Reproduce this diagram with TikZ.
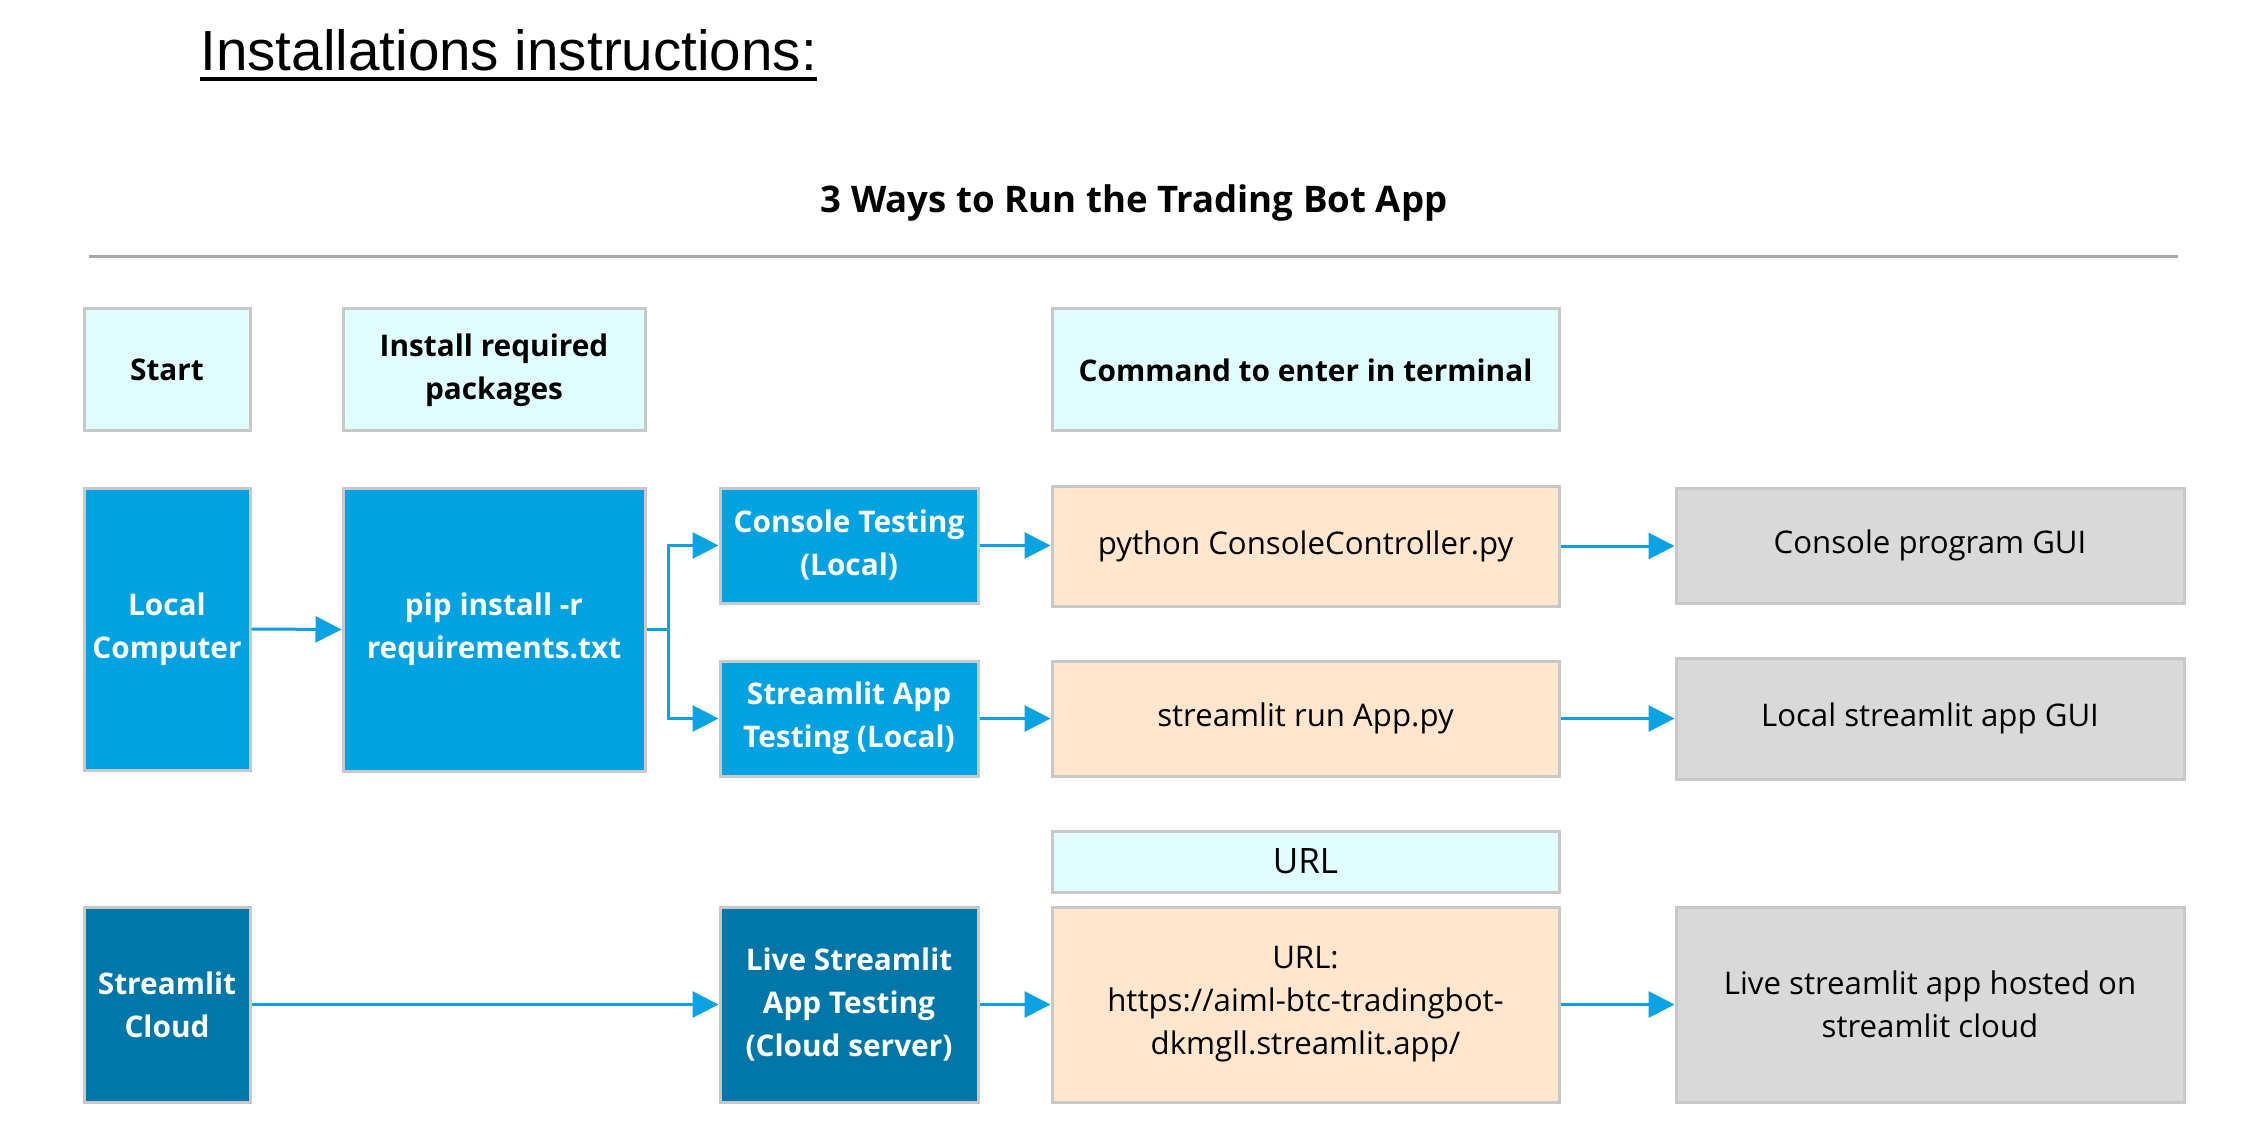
\documentclass[tikz,border=0pt]{standalone}
\usepackage{fontspec}
\setmainfont{Open Sans}
\newfontfamily\arialf{Liberation Sans}
\usetikzlibrary{arrows.meta}
\definecolor{cyanbg}{HTML}{E0FEFE}
\definecolor{bluebg}{HTML}{00A2E2}
\definecolor{dbluebg}{HTML}{0077A8}
\definecolor{peachbg}{HTML}{FFE6CC}
\definecolor{graybg}{HTML}{D9D9D9}
\definecolor{boxline}{HTML}{C8C8C8}
\definecolor{arrowblue}{HTML}{0AA2E2}
\definecolor{sepline}{HTML}{A8A8A8}
\begin{document}
\begin{tikzpicture}[x=0.5pt,y=-0.5pt,
  box/.style={draw=boxline, line width=1.5pt, inner sep=0pt, align=center,
    font=\fontsize{15.6pt}{21.5pt}\selectfont},
  hdrbox/.style={box, fill=cyanbg, font=\fontsize{14.9pt}{21.5pt}\selectfont\bfseries},
  bluebox/.style={box, fill=bluebg, text=white, font=\fontsize{14.9pt}{21.5pt}\selectfont\bfseries},
  dbluebox/.style={box, fill=dbluebg, text=white, font=\fontsize{14.9pt}{21.5pt}\selectfont\bfseries},
  peachbox/.style={box, fill=peachbg},
  graybox/.style={box, fill=graybg},
  arr/.style={draw=arrowblue, line width=1.5pt, -{Triangle[length=13pt,width=13pt]}},
]
\useasboundingbox (0,0) rectangle (2262,1138);

% titles
\node[anchor=base west, inner sep=0pt, font=\arialf\fontsize{28.3pt}{34pt}\selectfont] (maintitle) at (200,71) {Installations instructions:};
\draw[line width=2pt] ([yshift=-4pt]maintitle.base west) -- ([yshift=-4pt]maintitle.base east);
\node[anchor=base, inner sep=0pt, font=\fontsize{18.3pt}{22pt}\selectfont\bfseries] (subtitle) at (1134,213) {3 Ways to Run the Trading Bot App};
\coordinate (sepL) at (89,257);
\coordinate (sepR) at (2178,257);
\draw[sepline, line width=1.5pt] (sepL) -- (sepR);

% header row
\node[hdrbox, minimum width=83pt, minimum height=61pt] (start) at (167,370) {Start};
\node[hdrbox, minimum width=151pt, minimum height=61pt] (install) at (494,370) {Install required\\packages};
\node[hdrbox, minimum width=253.5pt, minimum height=61pt] (command) at (1305.5,370) {Command to enter in terminal};

% local rows
\node[bluebox, minimum width=83pt, minimum height=141pt] (local) at (167,629) {Local\\Computer};
\node[bluebox, minimum width=151pt, minimum height=141.5pt] (pip) at (494,629.5) {pip install -r\\requirements.txt};
\node[bluebox, minimum width=129pt, minimum height=57.5pt] (console) at (849,545.5) {Console Testing\\(Local)};
\node[bluebox, minimum width=129pt, minimum height=57.5pt] (stest) at (849,718.5) {Streamlit App\\Testing (Local)};
\node[peachbox, minimum width=253.5pt, minimum height=60pt] (python) at (1305.5,546) {python ConsoleController.py};
\node[peachbox, minimum width=253.5pt, minimum height=57.5pt] (srun) at (1305.5,718.5) {streamlit run App.py};
\node[graybox, minimum width=254pt, minimum height=57.5pt] (cgui) at (1930,545.5) {Console program GUI};
\node[graybox, minimum width=254pt, minimum height=60.5pt] (lgui) at (1930,718.5) {Local streamlit app GUI};

% cloud row
\node[box, fill=cyanbg, minimum width=253.5pt, minimum height=30.5pt, font=\fontsize{17.5pt}{21pt}\selectfont] (urlh) at (1305.5,861.5) {URL};
\node[dbluebox, minimum width=83pt, minimum height=97.5pt] (cloud) at (167,1004.5) {Streamlit\\Cloud};
\node[dbluebox, minimum width=129pt, minimum height=97.5pt] (live) at (849,1004.5) {Live Streamlit\\App Testing\\(Cloud server)};
\node[peachbox, minimum width=253.5pt, minimum height=97.5pt] (url) at (1305.5,1004.5) {URL:\\https://aiml-btc-tradingbot-\\dkmgll.streamlit.app/};
\node[graybox, minimum width=254pt, minimum height=97.5pt] (hosted) at (1930,1004.5) {Live streamlit app hosted on\\streamlit cloud};

% connectors
\coordinate (jn) at (668,629);
\draw[arr] (local.east) -- (pip.west);
\draw[draw=arrowblue, line width=1.5pt] (pip.east |- jn) -- (jn);
\draw[arr] (jn) |- (console.west);
\draw[arr] (jn) |- (stest.west);
\draw[arr] (console.east) -- (python.west |- console.east);
\draw[arr] (stest.east) -- (srun.west |- stest.east);
\draw[arr] (python.east) -- (cgui.west |- python.east);
\draw[arr] (srun.east) -- (lgui.west |- srun.east);
\draw[arr] (cloud.east) -- (live.west);
\draw[arr] (live.east) -- (url.west);
\draw[arr] (url.east) -- (hosted.west);
\end{tikzpicture}
\end{document}
